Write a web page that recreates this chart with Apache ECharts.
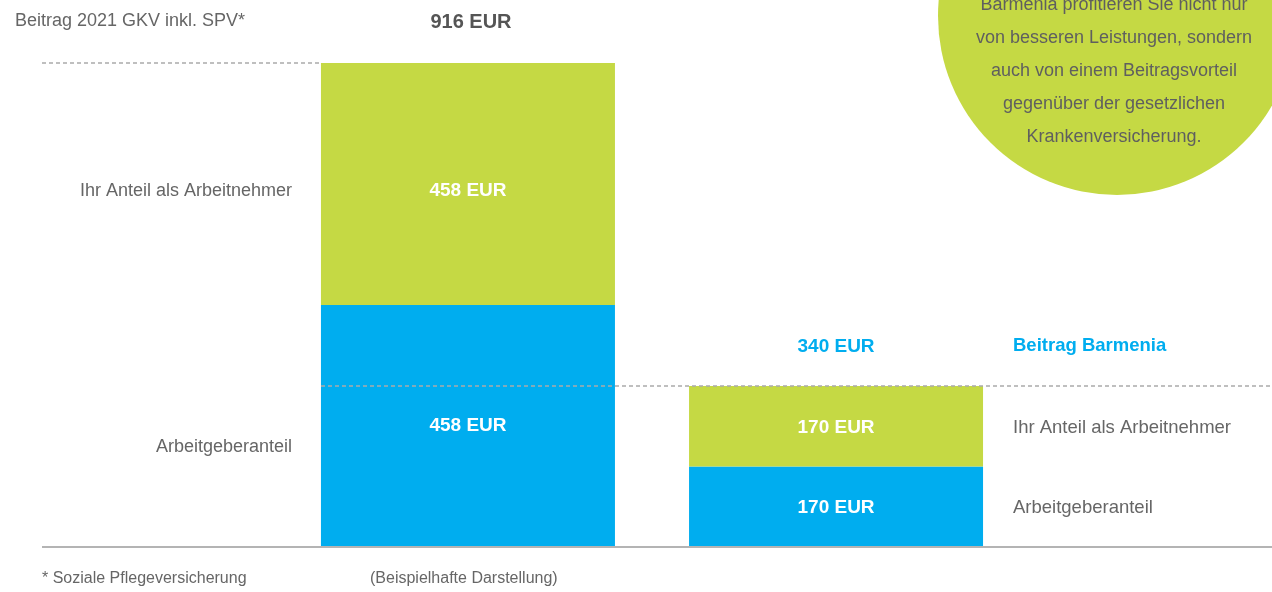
<!DOCTYPE html>
<html>
<head>
<meta charset="utf-8">
<script src="https://cdn.jsdelivr.net/npm/echarts@6/dist/echarts.min.js"></script>
<style>
html,body{margin:0;padding:0;background:#fff;}
#c{width:1272px;height:592px;}
</style>
</head>
<body>
<div id="c"></div>
<script>
// ---- data ----
const categories = ['Beitrag'];
const gkvArbeitgeber = [458];
const gkvArbeitnehmer = [458];
const barmeniaArbeitgeber = [170];
const barmeniaArbeitnehmer = [170];
const gkvTotal = [916];
const barmeniaTotal = [340];
const leftLabels = ['Beitrag 2021 GKV inkl. SPV*', 'Ihr Anteil als Arbeitnehmer', 'Arbeitgeberanteil'];
const rightLabels = ['Beitrag Barmenia', 'Ihr Anteil als Arbeitnehmer', 'Arbeitgeberanteil'];
const footnotes = ['* Soziale Pflegeversicherung', '(Beispielhafte Darstellung)'];
const circleLines = [
  'Barmenia profitieren Sie nicht nur',
  'von besseren Leistungen, sondern',
  'auch von einem Beitragsvorteil',
  'gegenüber der gesetzlichen',
  'Krankenversicherung.'
];

const GREEN = '#c5d944';
const BLUE = '#00adef';
const GRAY = '#666666';
const FONT = '"Liberation Sans Narrow", "Arial Narrow", "Liberation Sans", sans-serif';

const chart = echarts.init(document.getElementById('c'), null, {renderer: 'canvas'});

const inLabel = (dy) => ({
  show: true, position: 'inside', color: '#fff', fontFamily: FONT,
  fontWeight: 'bold', fontSize: 19, offset: [0, dy || 0],
  formatter: p => p.value + ' EUR'
});
const BW = 294;

const option = {
  animation: false,
  backgroundColor: '#fff',
  grid: {left: 32, right: 0, top: 63, bottom: 45},
  xAxis: {type: 'category', data: categories, show: false},
  yAxis: [
    {type: 'value', min: 0, max: 916, show: false},
    {type: 'value', min: 0, max: 1022, show: false}
  ],
  series: [
    {type: 'bar', stack: 'gkv', yAxisIndex: 0, barWidth: BW, data: gkvArbeitgeber,
     itemStyle: {color: BLUE}, label: inLabel(0)},
    {type: 'bar', stack: 'gkv', yAxisIndex: 0, barWidth: BW, data: gkvArbeitnehmer,
     itemStyle: {color: GREEN}, label: inLabel(7)},
    {type: 'bar', stack: 'gkv', yAxisIndex: 0, barWidth: BW, data: [0],
     itemStyle: {color: 'transparent'},
     label: {show: true, position: 'top', distance: 31, color: '#555', fontWeight: 'bold',
       fontSize: 20, fontFamily: FONT, offset: [3, 0], formatter: () => gkvTotal[0] + ' EUR'}},
    {type: 'bar', stack: 'bar', yAxisIndex: 1, barWidth: BW, data: barmeniaArbeitgeber,
     itemStyle: {color: BLUE}, label: inLabel(1)},
    {type: 'bar', stack: 'bar', yAxisIndex: 1, barWidth: BW, data: barmeniaArbeitnehmer,
     itemStyle: {color: GREEN}, label: inLabel(2)},
    {type: 'bar', stack: 'bar', yAxisIndex: 1, barWidth: BW, barGap: '25.2%', data: [0],
     itemStyle: {color: 'transparent'},
     label: {show: true, position: 'top', distance: 30, color: BLUE, fontWeight: 'bold',
       fontSize: 19, fontFamily: FONT, formatter: () => barmeniaTotal[0] + ' EUR'}}
  ]
};
chart.setOption(option);

const y0 = chart.convertToPixel({yAxisIndex: 0}, 0);
const yTop1 = chart.convertToPixel({yAxisIndex: 0}, gkvTotal[0]);
const yTop2 = chart.convertToPixel({yAxisIndex: 1}, barmeniaTotal[0]);
const yMid1 = chart.convertToPixel({yAxisIndex: 0}, gkvArbeitgeber[0]);
const yMid2 = chart.convertToPixel({yAxisIndex: 1}, barmeniaArbeitgeber[0]);

const txt = (x, y, s, opt) => Object.assign({
  type: 'text', x: x, y: y, silent: true,
  style: Object.assign({text: s, fill: GRAY, font: '18px ' + FONT, textAlign: 'left', textVerticalAlign: 'middle'}, opt || {})
});

chart.setOption({
  graphic: [
    {type: 'circle', shape: {cx: 1117, cy: 16, r: 179}, style: {fill: GREEN}, z: -10, silent: true},
    {type: 'text', x: 1114, y: 71, silent: true,
     style: {text: circleLines.join('\n'), fill: '#5f5f5f', font: '18px ' + FONT,
       textAlign: 'center', textVerticalAlign: 'middle', lineHeight: 33}},
    {type: 'line', shape: {x1: 42, y1: y0, x2: 1272, y2: y0}, style: {stroke: '#b4b4b4', lineWidth: 2}, z: 10, silent: true},
    {type: 'line', shape: {x1: 42, y1: yTop1, x2: 321, y2: yTop1}, style: {stroke: '#aaaaaa', lineWidth: 1.5, lineDash: [4, 3]}, z: 10, silent: true},
    {type: 'line', shape: {x1: 321, y1: yTop2, x2: 1272, y2: yTop2}, style: {stroke: '#aaaaaa', lineWidth: 1.5, lineDash: [4, 3]}, z: 10, silent: true},
    txt(15, 21, leftLabels[0]),
    txt(292, (yTop1 + yMid1) / 2 + 7, leftLabels[1], {textAlign: 'right'}),
    txt(292, 447, leftLabels[2], {textAlign: 'right'}),
    txt(1013, yTop2 - 40, rightLabels[0], {fill: BLUE, font: 'bold 18.5px ' + FONT}),
    txt(1013, (yTop2 + yMid2) / 2 + 2, rightLabels[1], {font: '18.5px ' + FONT}),
    txt(1013, (yMid2 + y0) / 2 + 1, rightLabels[2], {font: '18.5px ' + FONT}),
    txt(42, 579, footnotes[0], {font: '16px ' + FONT}),
    txt(370, 579, footnotes[1], {font: '16px ' + FONT})
  ]
});
</script>
</body>
</html>
